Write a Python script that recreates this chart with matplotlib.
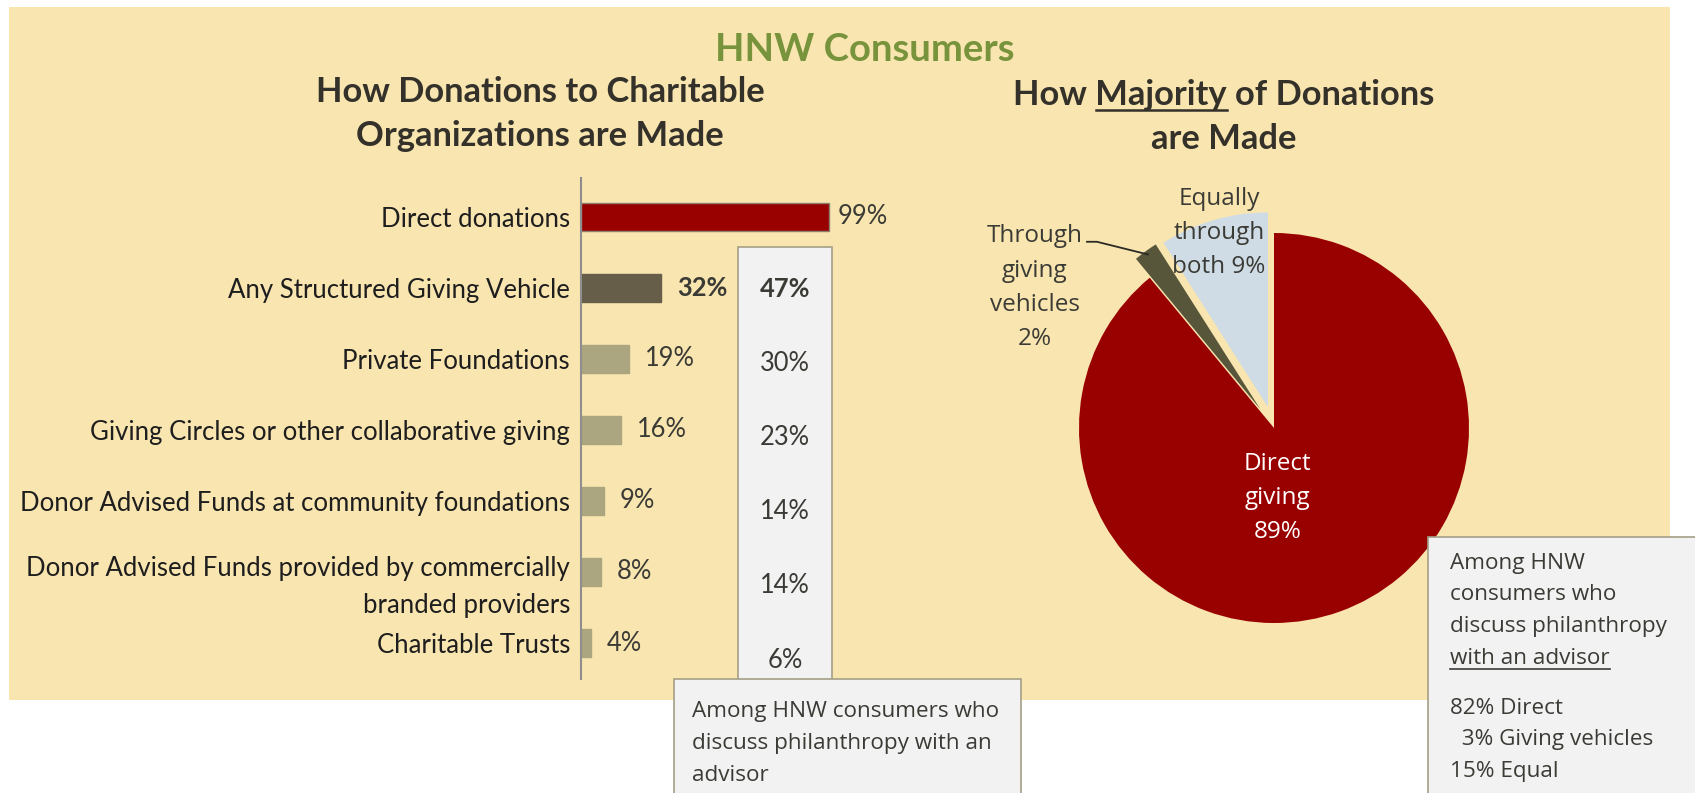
import matplotlib.pyplot as plt
import matplotlib.transforms as mtrans
from matplotlib.patches import Rectangle
from matplotlib.lines import Line2D
import numpy as np

W, H = 1695, 793
plt.rcParams['font.family'] = ['Lato', 'DejaVu Sans']
NOTE_FONT = ['Open Sans', 'DejaVu Sans']

# bar chart data
categories = ["Direct donations",
              "Any Structured Giving Vehicle",
              "Private Foundations",
              "Giving Circles or other collaborative giving",
              "Donor Advised Funds at community foundations",
              "Donor Advised Funds provided by commercially\nbranded providers",
              "Charitable Trusts"]
all_hnw = [99, 32, 19, 16, 9, 8, 4]
with_advisor = [47, 30, 23, 14, 14, 6]   # rows 2..7
bar_colors = ['#990000', '#665E48', '#ABA67F', '#ABA67F', '#ABA67F', '#ABA67F', '#ABA67F']

# pie data
pie_values = [89, 2, 9]
pie_labels = ["Direct\ngiving\n{}%", "Through\ngiving\nvehicles\n{}%", "Equally\nthrough\nboth {}%"]
pie_colors = ['#990000', '#57553A', '#D0DCE5']
pie_explode = [0, 0.12, 0.11]
advisor_split = [("Direct", 82), ("Giving vehicles", 3), ("Equal", 15)]

BEIGE = '#F9E5AF'
BOX = '#F2F2F2'
BOX_EDGE = '#A39F86'
DARK = '#34312A'
TXT = '#3B3B36'


def fx(x):
    return x / W


def fy(y):
    return 1 - y / H


def frect(left, top, width, height):
    return [left / W, 1 - (top + height) / H, width / W, height / H]


fig = plt.figure(figsize=(W / 100, H / 100), dpi=100)
fig.patch.set_facecolor('white')

fig.add_artist(Rectangle((fx(9), fy(700)), fx(1670 - 9), (700 - 7) / H,
                         transform=fig.transFigure, facecolor=BEIGE, edgecolor='none', zorder=-5))

# advisor column box + note boxes
fig.add_artist(Rectangle((fx(738), fy(700)), fx(832 - 738), (700 - 247) / H,
                         transform=fig.transFigure, facecolor=BOX, edgecolor=BOX_EDGE, lw=1.2, zorder=1))
fig.add_artist(Rectangle((fx(674), fy(800)), fx(1021 - 674), (800 - 679) / H,
                         transform=fig.transFigure, facecolor=BOX, edgecolor=BOX_EDGE, lw=1.2, zorder=2))
fig.add_artist(Rectangle((fx(1428), fy(800)), fx(1700 - 1428), (800 - 537) / H,
                         transform=fig.transFigure, facecolor=BOX, edgecolor=BOX_EDGE, lw=1.2, zorder=2))

# titles
fig.text(fx(865), fy(50), "HNW Consumers", ha='center', va='center',
         fontsize=27.5, fontweight='bold', color='#77933C')
fig.text(fx(540), fy(102), "How Donations to Charitable", ha='center', va='baseline',
         fontsize=24.8, fontweight='bold', color=DARK)
fig.text(fx(540), fy(146), "Organizations are Made", ha='center', va='baseline',
         fontsize=24.8, fontweight='bold', color=DARK)
t_maj = fig.text(fx(1224), fy(105), "How Majority of Donations", ha='center', va='baseline',
                 fontsize=24.8, fontweight='bold', color=DARK)
fig.text(fx(1224), fy(149), "are Made", ha='center', va='baseline',
         fontsize=24.8, fontweight='bold', color=DARK)

# bar chart
ax = fig.add_axes(frect(581, 178, 250, 679 - 178))
ax.patch.set_alpha(0)
idx = list(range(len(categories)))
ax.barh(idx, all_hnw, height=0.39, color=bar_colors,
        edgecolor=['#8C8070'] + bar_colors[1:], linewidth=1)
ax.set_xlim(0, 100)
ax.set_ylim(6.507, -0.549)
ax.set_xticks([])
ax.set_yticks(idx)
ax.set_yticklabels(categories, fontsize=18.5, color='#1E1E1E', linespacing=1.58)
ax.tick_params(axis='y', length=0, pad=8)
for s in ['top', 'right', 'bottom']:
    ax.spines[s].set_visible(False)
ax.spines['left'].set_color('#8E8E8E')
ax.spines['left'].set_linewidth(1.5)

# the two-line label sits a little low in the original
lab = ax.get_yticklabels()[5]
lab.set_transform(lab.get_transform() + mtrans.ScaledTranslation(0, -7 / 100, fig.dpi_scale_trans))

for i, v in enumerate(all_hnw):
    ax.annotate(f"{v}%", xy=(v, i), xytext=(11.5 if v < 90 else 6.5, 0), textcoords='offset points',
                va='center', ha='left', fontsize=18.4, color=TXT,
                fontweight='bold' if i == 1 else 'normal')

# advisor column values
n = len(with_advisor)
for k, v in enumerate(with_advisor):
    y = 289 + k * (660 - 289) / (n - 1)
    fig.text(fx(785), fy(y), f"{v}%", ha='center', va='center', fontsize=18.4, color=TXT,
             fontweight='bold' if k == 0 else 'normal', zorder=3)

note_lines = ["Among HNW consumers who", "discuss philanthropy with an", "advisor"]
for k, line in enumerate(note_lines):
    fig.text(fx(692), fy(717 + 32 * k), line, ha='left', va='baseline', fontsize=16.2,
             family=NOTE_FONT, color=TXT, zorder=3)

# pie chart
R = 195
pax = fig.add_axes(frect(1274 - 1.5 * R, 428 - 1.5 * R, 3 * R, 3 * R))
wedges, _ = pax.pie(pie_values, colors=pie_colors, startangle=90, counterclock=False,
                    explode=pie_explode, wedgeprops=dict(linewidth=0))
pax.set_xlim(-1.5, 1.5)
pax.set_ylim(-1.5, 1.5)
pax.axis('off')

pax.text(0.02, -0.36, pie_labels[0].format(pie_values[0]), ha='center', va='center',
         fontsize=17.5, family=NOTE_FONT, color='white', linespacing=1.56)
pax.text(-1.226, 0.72, pie_labels[1].format(pie_values[1]), ha='center', va='center',
         fontsize=17.5, family=NOTE_FONT, color=TXT, linespacing=1.56)
pax.text(-0.282, 1.0, pie_labels[2].format(pie_values[2]), ha='center', va='center',
         fontsize=17.5, family=NOTE_FONT, color=TXT, linespacing=1.56)

# leader line to the giving-vehicles wedge
w = wedges[1]
mid = np.deg2rad((w.theta1 + w.theta2) / 2)
rr = 1 + pie_explode[1] - 0.02
pax.plot([-0.959, -0.908, rr * np.cos(mid)], [0.955, 0.955, rr * np.sin(mid)],
         color='#2B2B25', lw=1.3)

# right note box text
box_lines = ["Among HNW", "consumers who", "discuss philanthropy", "with an advisor"]
for k, line in enumerate(box_lines):
    t_last = fig.text(fx(1450), fy(569 + 31.5 * k), line, ha='left', va='baseline',
                      fontsize=16.2, family=NOTE_FONT, color=TXT, zorder=3)
for k, (name, v) in enumerate(advisor_split):
    pct = f"{v}%" if v >= 10 else f"  {v}%"
    fig.text(fx(1450), fy(714 + 31.5 * k), f"{pct} {name}", ha='left', va='baseline',
             fontsize=16.2, family=NOTE_FONT, color=TXT, zorder=3)

# underlines
fig.canvas.draw()
r = fig.canvas.get_renderer()
bb = t_last.get_window_extent(r)
fig.add_artist(Line2D([bb.x0 / W, bb.x1 / W], [fy(669), fy(669)], transform=fig.transFigure,
                      color=TXT, lw=1.2, zorder=3))

bb_full = t_maj.get_window_extent(r)
tmp1 = fig.text(0, 0, "How Majority", fontsize=24.8, fontweight='bold')
tmp2 = fig.text(0, 0, "Majority", fontsize=24.8, fontweight='bold')
w1 = tmp1.get_window_extent(r).width
w2 = tmp2.get_window_extent(r).width
tmp1.remove()
tmp2.remove()
ux0 = bb_full.x0 + w1 - w2
ux1 = bb_full.x0 + w1
fig.add_artist(Line2D([ux0 / W, ux1 / W], [fy(110), fy(110)], transform=fig.transFigure,
                      color=DARK, lw=1.8, zorder=3))

fig.savefig('out.png', dpi=100)
